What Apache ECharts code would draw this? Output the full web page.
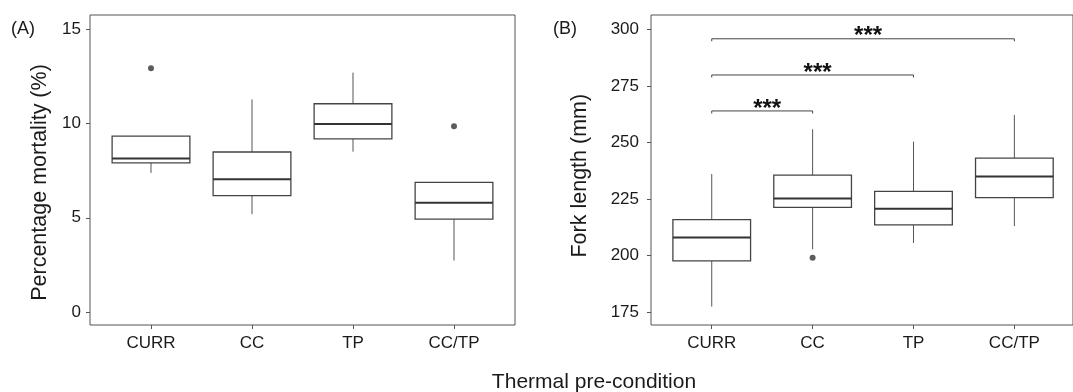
<!DOCTYPE html>
<html>
<head>
<meta charset="utf-8">
<script src="https://cdn.jsdelivr.net/npm/echarts@6/dist/echarts.min.js"></script>
<style>html,body{margin:0;padding:0;background:#fff}#c{width:1073px;height:392px}</style>
</head>
<body>
<div id="c"></div>
<script>
// ---- data ----
const categories = ['CURR', 'CC', 'TP', 'CC/TP'];
// [min, Q1, median, Q3, max]
const mortalityBoxes = [
  [7.38, 7.91, 8.14, 9.33, 9.33],
  [5.19, 6.17, 7.04, 8.49, 11.28],
  [8.51, 9.19, 9.98, 11.05, 12.70],
  [2.73, 4.93, 5.80, 6.88, 6.88]
];
const mortalityOutliers = [[0, 12.93], [3, 9.86]];
const forkBoxes = [
  [177.4, 197.6, 207.9, 215.8, 236.0],
  [202.7, 221.3, 225.2, 235.5, 255.8],
  [205.5, 213.5, 220.7, 228.3, 250.3],
  [213.0, 225.6, 234.9, 243.0, 262.1]
];
const forkOutliers = [[1, 199.0]];
// [from category, to category, bracket height, label]
const forkBrackets = [
  [0, 1, 263.9, '***'],
  [0, 2, 279.8, '***'],
  [0, 3, 295.8, '***']
];
const mortalityTicks = [0, 5, 10, 15];
const mortalityRange = [-0.69, 15.76];
const forkTicks = [175, 200, 225, 250, 275, 300];
const forkRange = [169.25, 306.32];

// ---- chart ----
const chart = echarts.init(document.getElementById('c'), null, {renderer: 'canvas'});
const FONT = 'Liberation Sans, Arial, sans-serif';
const TXT = '#1a1a1a';

function boxData(arr) {
  return arr.map((b, i) => [i].concat(b));
}
function renderBox(params, api) {
  const x = api.value(0);
  const pMin = api.coord([x, api.value(1)]);
  const pQ1 = api.coord([x, api.value(2)]);
  const pMed = api.coord([x, api.value(3)]);
  const pQ3 = api.coord([x, api.value(4)]);
  const pMax = api.coord([x, api.value(5)]);
  const bw = api.size([1, 0])[0] * 0.77;
  const cx = pMed[0];
  return {
    type: 'group',
    children: [
      {type: 'line', shape: {x1: cx, y1: pMin[1], x2: cx, y2: pQ1[1]}, style: {stroke: '#555', lineWidth: 1}},
      {type: 'line', shape: {x1: cx, y1: pQ3[1], x2: cx, y2: pMax[1]}, style: {stroke: '#555', lineWidth: 1}},
      {type: 'rect', shape: {x: cx - bw / 2, y: pQ3[1], width: bw, height: pQ1[1] - pQ3[1]}, style: {fill: '#fff', stroke: '#444', lineWidth: 1.3}},
      {type: 'line', shape: {x1: cx - bw / 2, y1: pMed[1], x2: cx + bw / 2, y2: pMed[1]}, style: {stroke: '#333', lineWidth: 2}}
    ]
  };
}
function renderBracket(params, api) {
  const y = api.value(2);
  const p1 = api.coord([api.value(0), y]);
  const p2 = api.coord([api.value(1), y]);
  const label = forkBrackets[params.dataIndex][3];
  return {
    type: 'group',
    children: [
      {type: 'polyline', shape: {points: [[p1[0], p1[1] + 2.5], [p1[0], p1[1]], [p2[0], p2[1]], [p2[0], p2[1] + 2.5]]}, style: {stroke: '#444', lineWidth: 1, fill: null}},
      {type: 'text', x: (p1[0] + p2[0]) / 2 + 5, y: p1[1] - 2, style: {text: label, font: 'bold 24px ' + FONT, fill: '#111', align: 'center', verticalAlign: 'middle'}}
    ]
  };
}

const axisTickStyle = {show: true, length: 4, lineStyle: {color: '#555', width: 1}};
const option = {
  animation: false,
  backgroundColor: '#fff',
  grid: [
    {left: 100.5, width: 404, top: 15, height: 310},
    {left: 90, width: 425, top: 15, height: 310, show: true, borderColor: '#555', borderWidth: 1, backgroundColor: 'transparent'},
    {left: 661.3, width: 403.5, top: 15, height: 310},
    {left: 651, width: 424, top: 15, height: 310, show: true, borderColor: '#555', borderWidth: 1, backgroundColor: 'transparent'}
  ],
  xAxis: [
    {gridIndex: 0, type: 'category', data: categories, axisLine: {show: false, onZero: false},
     axisTick: Object.assign({alignWithLabel: true}, axisTickStyle),
     axisLabel: {fontSize: 17, fontFamily: FONT, color: TXT, margin: 10}, splitLine: {show: false}},
    {gridIndex: 1, type: 'value', show: false},
    {gridIndex: 2, type: 'category', data: categories, axisLine: {show: false, onZero: false},
     axisTick: Object.assign({alignWithLabel: true}, axisTickStyle),
     axisLabel: {fontSize: 17, fontFamily: FONT, color: TXT, margin: 10}, splitLine: {show: false}},
    {gridIndex: 3, type: 'value', show: false}
  ],
  yAxis: [
    {gridIndex: 0, type: 'value', min: mortalityRange[0], max: mortalityRange[1],
     offset: 10.5, axisLine: {show: false, onZero: false},
     axisTick: Object.assign({customValues: mortalityTicks}, axisTickStyle),
     axisLabel: {customValues: mortalityTicks, fontSize: 17, fontFamily: FONT, color: TXT, margin: 9}, splitLine: {show: false}},
    {gridIndex: 1, type: 'value', show: false},
    {gridIndex: 2, type: 'value', min: forkRange[0], max: forkRange[1],
     offset: 10.3, axisLine: {show: false, onZero: false},
     axisTick: Object.assign({customValues: forkTicks}, axisTickStyle),
     axisLabel: {customValues: forkTicks, fontSize: 17, fontFamily: FONT, color: TXT, margin: 12}, splitLine: {show: false}},
    {gridIndex: 3, type: 'value', show: false}
  ],
  series: [
    {type: 'custom', xAxisIndex: 0, yAxisIndex: 0, renderItem: renderBox, data: boxData(mortalityBoxes),
     encode: {x: 0, y: [1, 2, 3, 4, 5]}, clip: false, z: 3},
    {type: 'scatter', xAxisIndex: 0, yAxisIndex: 0, data: mortalityOutliers, symbolSize: 6,
     itemStyle: {color: '#333'}, z: 4},
    {type: 'custom', xAxisIndex: 2, yAxisIndex: 2, renderItem: renderBox, data: boxData(forkBoxes),
     encode: {x: 0, y: [1, 2, 3, 4, 5]}, clip: false, z: 3},
    {type: 'scatter', xAxisIndex: 2, yAxisIndex: 2, data: forkOutliers, symbolSize: 6,
     itemStyle: {color: '#333'}, z: 4},
    {type: 'custom', xAxisIndex: 2, yAxisIndex: 2, renderItem: renderBracket,
     data: forkBrackets.map(b => [b[0], b[1], b[2]]), encode: {x: [0, 1], y: 2}, clip: false, z: 5}
  ],
  graphic: [
    {type: 'text', left: 11, top: 20, style: {text: '(A)', font: '18px ' + FONT, fill: TXT}},
    {type: 'text', left: 553, top: 20, style: {text: '(B)', font: '18px ' + FONT, fill: TXT}},
    {type: 'text', x: 40.5, y: 182.5, rotation: Math.PI / 2,
     style: {text: 'Percentage mortality (%)', font: '21.5px ' + FONT, fill: TXT, align: 'center', verticalAlign: 'middle'}},
    {type: 'text', x: 580.5, y: 175.7, rotation: Math.PI / 2,
     style: {text: 'Fork length (mm)', font: '21.5px ' + FONT, fill: TXT, align: 'center', verticalAlign: 'middle'}},
    {type: 'text', x: 594, y: 382, style: {text: 'Thermal pre-condition', font: '21px ' + FONT, fill: TXT, align: 'center', verticalAlign: 'middle'}}
  ]
};
chart.setOption(option);
</script>
</body>
</html>
